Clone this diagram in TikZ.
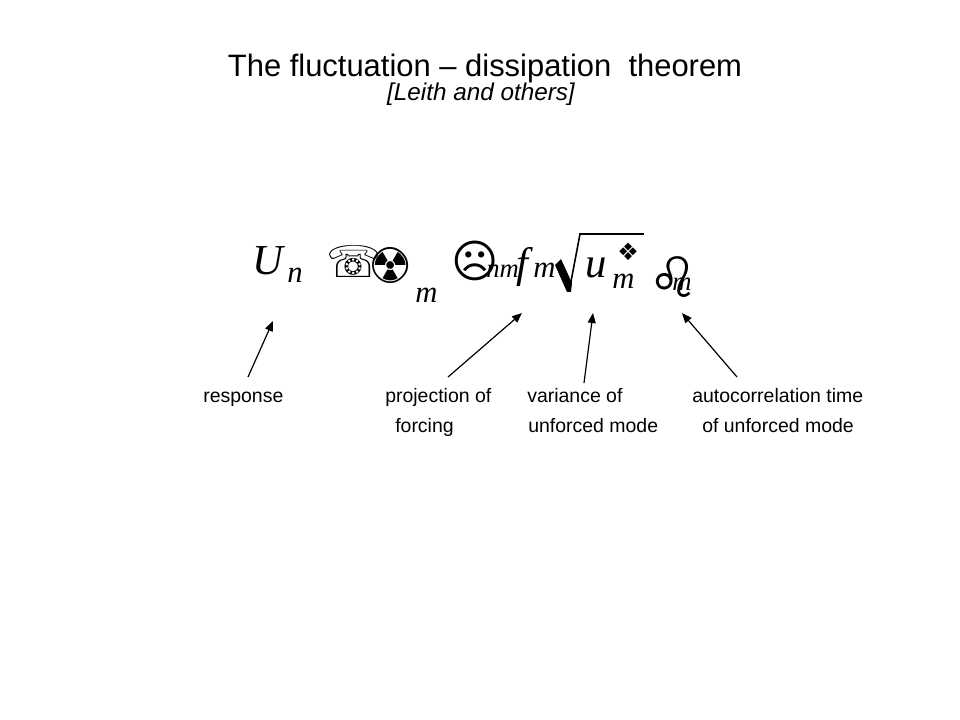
\documentclass[tikz,border=0pt]{standalone}
\usepackage{fontspec}
\setmainfont{Liberation Sans}
\newfontfamily\eqfont{Liberation Serif}
\newfontfamily\dingfont{DejaVu Sans}
\usetikzlibrary{arrows.meta}

\begin{document}
\begin{tikzpicture}[x=0.75pt, y=-0.75pt,
    every node/.style={inner sep=0pt},
    lbl/.style={anchor=base west, font=\fontsize{14.6}{18}\selectfont},
    eqbig/.style={anchor=base west, font=\eqfont\itshape\fontsize{32}{36}\selectfont},
    eqsub/.style={anchor=base west, font=\eqfont\itshape\fontsize{#1}{#1}\selectfont},
    ding/.style={anchor=base west, font=\dingfont\fontsize{#1}{#1}\selectfont},
    ptr/.style={-{Triangle[length=7.5pt,width=6pt]}, line width=0.9pt}]
  \useasboundingbox (0,0) rectangle (960,720);
  % title
  \node[anchor=base, font=\fontsize{23.2}{28}\selectfont] (title) at (485,77) {The fluctuation – dissipation\ \ theorem};
  \node[anchor=base, font=\itshape\fontsize{18.2}{21}\selectfont] (authors) at (481,101) {[Leith and others]};
  % equation
  \node[eqbig] (U) at (252,275) {U};
  \node[eqsub=23] (Un) at (287,282) {n};
  \node[ding=33] (phone) at (326,278) {☏};
  \node[ding=37] (rad) at (368,284) {☢};
  \node[eqsub=23] (Sm) at (415,302) {m};
  \node[ding=34] (frown) at (451,277) {☹};
  \node[eqsub=20] (nm) at (486,278) {nm};
  \node[eqbig] (f) at (516,278) {f};
  \node[eqsub=23] (fm) at (533,278) {m};
  \fill (555,265) -- (561,259) -- (572,283) -- (571,292) -- (567,292) -- cycle;
  \draw[line width=1.2pt] (569,292) -- (580,234);
  \draw[line width=2pt] (579,234) -- (644,234);
  \node[eqbig] (u) at (585,277) {u};
  \node[eqsub=23] (um) at (612,288) {m};
  \node[ding=18] (usq) at (617,261) {❖};
  \node[ding=42] (leo) at (648,297) {♌};
  \node[eqsub=20] (leom) at (672,291) {m};
  % labels
  \node[lbl] (resp) at (203,402) {response};
  \node[lbl] (proj) at (385,402) {projection of};
  \node[lbl] (forc) at (395,432) {forcing};
  \node[lbl] (var) at (527,402) {variance of};
  \node[lbl] (varm) at (528,432) {unforced mode};
  \node[lbl] (auto) at (692,402) {autocorrelation time};
  \node[lbl] (autom) at (702,432) {of unforced mode};
  % arrows
  \coordinate (respTail) at (248,377);
  \coordinate (respTip) at (273,321);
  \coordinate (projTail) at (448,377);
  \coordinate (projTip) at (522,313);
  \coordinate (varTail) at (584,383);
  \coordinate (varTip) at (593,313);
  \coordinate (autoTail) at (737,377);
  \coordinate (autoTip) at (682,313);
  \draw[ptr] (respTail) -- (respTip);
  \draw[ptr] (projTail) -- (projTip);
  \draw[ptr] (varTail) -- (varTip);
  \draw[ptr] (autoTail) -- (autoTip);
\end{tikzpicture}
\end{document}
